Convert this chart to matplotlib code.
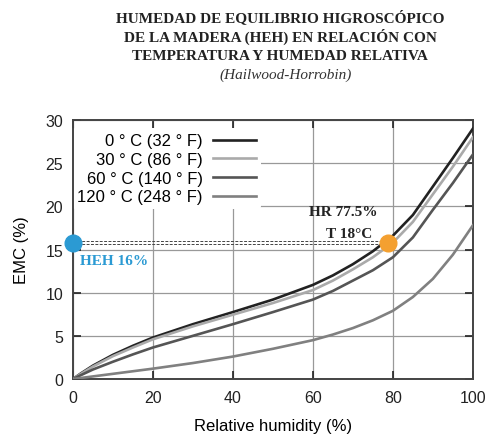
import matplotlib
matplotlib.use("Agg")
import matplotlib.pyplot as plt

rh = [0, 2, 5, 10, 15, 20, 30, 40, 50, 60, 65, 70, 75, 80, 85, 90, 95, 100]
emc_0c = [0, 0.65, 1.55, 2.8, 3.85, 4.8, 6.35, 7.75, 9.2, 10.9, 12.0, 13.3, 14.8, 16.6, 19.0, 22.3, 25.6, 29.0]
emc_30c = [0, 0.6, 1.45, 2.65, 3.65, 4.6, 6.1, 7.45, 8.8, 10.3, 11.4, 12.7, 14.1, 15.8, 18.2, 21.4, 24.6, 28.0]
emc_60c = [0, 0.45, 1.1, 2.0, 2.85, 3.65, 5.0, 6.35, 7.75, 9.2, 10.2, 11.4, 12.6, 14.1, 16.4, 19.6, 22.7, 26.0]
emc_120c = [0, 0.12, 0.3, 0.6, 0.9, 1.2, 1.85, 2.6, 3.5, 4.5, 5.15, 5.9, 6.8, 7.9, 9.5, 11.6, 14.4, 17.8]

labels = ["0 ° C (32 ° F)", "30 ° C (86 ° F)", "60 ° C (140 ° F)", "120 ° C (248 ° F)"]
colors = ["#222222", "#aaaaaa", "#555555", "#808080"]

point_rh = 78.7
point_emc = 15.8

plt.rcParams['font.family'] = ['Liberation Sans', 'DejaVu Sans']

fig = plt.figure(figsize=(4.86, 4.35), dpi=100)
ax = fig.add_axes([0.150, 0.1264, 0.823, 0.5954])

for y, lab, c in zip([emc_0c, emc_30c, emc_60c, emc_120c], labels, colors):
    ax.plot(rh, y, color=c, lw=1.9, label=lab, zorder=3, solid_joinstyle="round")

ax.set_xlim(0, 100)
ax.set_ylim(0, 30)
ax.set_xticks([0, 20, 40, 60, 80, 100])
ax.set_yticks([0, 5, 10, 15, 20, 25, 30])
ax.grid(True, color="#999999", lw=0.9)
ax.tick_params(direction="in", top=True, right=True, length=6, width=1.2,
               labelsize=11.5, colors="#222222")
ax.tick_params(axis="x", pad=8)
ax.tick_params(axis="y", pad=7)
for s in ax.spines.values():
    s.set_color("#444444")
    s.set_linewidth(1.4)

ax.set_xlabel("Relative humidity (%)", fontsize=12, labelpad=9)
ax.set_ylabel("EMC (%)", fontsize=12, labelpad=12)

leg = ax.legend(loc="upper left", markerfirst=False, frameon=True, fontsize=12,
                handlelength=2.6, labelspacing=0.22, borderpad=0.3,
                handletextpad=0.6, borderaxespad=0.5, bbox_to_anchor=(-0.022, 1.0))
leg.get_frame().set_edgecolor("none")
leg.get_frame().set_facecolor("white")
leg.get_frame().set_alpha(1)
for t in leg.get_texts():
    t.set_ha("right")
leg.set_zorder(2.4)

# dashed reference lines
ax.plot([0, point_rh], [point_emc + 0.15, point_emc + 0.15], color="#444444",
        lw=0.7, ls=(0, (3, 1.5)), zorder=4)
ax.plot([0, point_rh], [point_emc - 0.15, point_emc - 0.15], color="#444444",
        lw=0.7, ls=(0, (3, 1.5)), zorder=4)
ax.plot([0], [point_emc], "o", color="#2b9ad3", ms=12, clip_on=False, zorder=6)
ax.plot([point_rh], [point_emc], "o", color="#f4a030", ms=12, clip_on=False, zorder=6)

ax.text(1.8, 13.7, "HEH 16%", color="#2b9ad3", fontsize=11, fontweight="bold",
        family="Liberation Serif", ha="left", va="center", zorder=6)
ax.text(67.5, 19.35, "HR 77.5%", color="#222222", fontsize=11, fontweight="bold",
        family="Liberation Serif", ha="center", va="center", zorder=6)
ax.text(69, 16.9, "T 18°C", color="#222222", fontsize=11, fontweight="bold",
        family="Liberation Serif", ha="center", va="center", zorder=6)

title_lines = ["HUMEDAD DE EQUILIBRIO HIGROSCÓPICO",
               "DE LA MADERA (HEH) EN RELACIÓN CON",
               "TEMPERATURA Y HUMEDAD RELATIVA"]
ys = [18, 37, 56]
for line, yy in zip(title_lines, ys):
    fig.text(280 / 486, 1 - yy / 435, line, ha="center", va="center",
             family="Liberation Serif", fontweight="bold", fontsize=11, color="#222222")
fig.text(286 / 486, 1 - 75 / 435, "(Hailwood-Horrobin)", ha="center", va="center",
         family="Liberation Serif", style="italic", fontsize=11, color="#333333")

fig.savefig("out.png", dpi=100)
